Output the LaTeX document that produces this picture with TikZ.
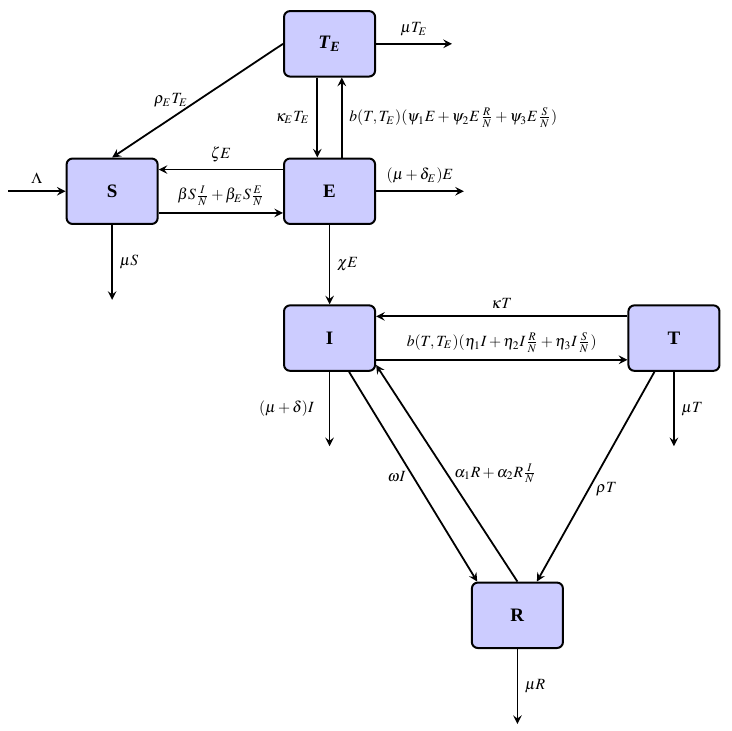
\documentclass[tikz,border=0pt]{standalone}
\usepackage{amsfonts, amssymb, amsmath}
\usepackage{mathptmx}
\usepackage{fontspec}
\setmainfont{Liberation Serif}
\usetikzlibrary{arrows}
\tikzset{box/.style={draw, line width=1pt, rounded corners=3pt, fill=blue!20, minimum width=1.6cm, minimum height=1.15cm, font=\fontsize{9.5}{11}\selectfont}}
\tikzset{lbl/.style={font=\fontsize{7.8}{9}\selectfont}}

\begin{document}
\begin{tikzpicture}[>=stealth, line width=0.9pt, lbl]
        \useasboundingbox (0,0) rectangle (12.86,-12.83);
        \coordinate (lam) at (0.14,-3.36);
        \coordinate (muTE) at (7.94,-0.77);
        \coordinate (muS) at (1.97,-5.27);
        \coordinate (muE) at (8.15,-3.36);
        \coordinate (muI) at (5.79,-7.84);
        \coordinate (muT) at (11.84,-7.84);
        \coordinate (muR) at (9.09,-12.72);
        \node[box] (TE) at (5.79,-0.77) {\textbf{\textit{T}}$_{\textbf{\textit{E}}}$}
          edge [->] node [above] {$\mu T_E$} (muTE);
        \node[box] (S) at (1.97,-3.36) {\textbf{S}}
          edge [<-] node [above] {$\Lambda$} (lam)
          edge [->] node [right] {$\mu S$} (muS);
        \node[box] (E) at (5.79,-3.36) {\textbf{E}}
          edge [->] node [above] {$(\mu+\delta_E)E$} (muE);
        \draw (TE.west) edge [->] node [left=1pt] {$\rho_E T_E$} (S.north)
              (TE.-110) edge [->] node [left] {$\kappa_E T_E$} (E.110)
              (E.70) edge [->] node [right] {$b(T,T_E)(\psi_1E+\psi_2E\frac{R}{N}+\psi_3E\frac{S}{N})$} (TE.-70)
              (E.155) edge [->] node [above] {$\zeta E$} (S.25)
              (S.-25) edge [->] node [above] {$\beta S\frac{I}{N}+\beta_ES\frac{E}{N}$} (E.-155);
        \node[box] (I) at (5.79,-5.94) {\textbf{I}}
          edge [<-] node [right] {$\chi E$} (E)
          edge [->] node [left=4pt] {$(\mu+\delta)I$} (muI);
        \node[box] (T) at (11.84,-5.94) {\textbf{T}}
          edge [->] node [right] {$\mu T$} (muT);
        \draw (T.155) edge [->] node [above] {$\kappa T$} (I.25)
              (I.-25) edge [->] node [above] {$b(T,T_E)(\eta_1I+\eta_2I\frac{R}{N}+\eta_3I\frac{S}{N})$} (T.205);
        \node[box] (R) at (9.09,-10.81) {\textbf{R}}
          edge [->] node [right] {$\mu R$} (muR);
        \draw (I.-60) edge [->] node [left] {$\omega I$} (R.140)
              (R.north) edge [->] node [right] {$\alpha_1R+\alpha_2R\frac{I}{N}$} (I.-30)
              (T.-120) edge [->] node [right, pos=0.56] {$\rho T$} (R.60);
      \end{tikzpicture}
\end{document}
